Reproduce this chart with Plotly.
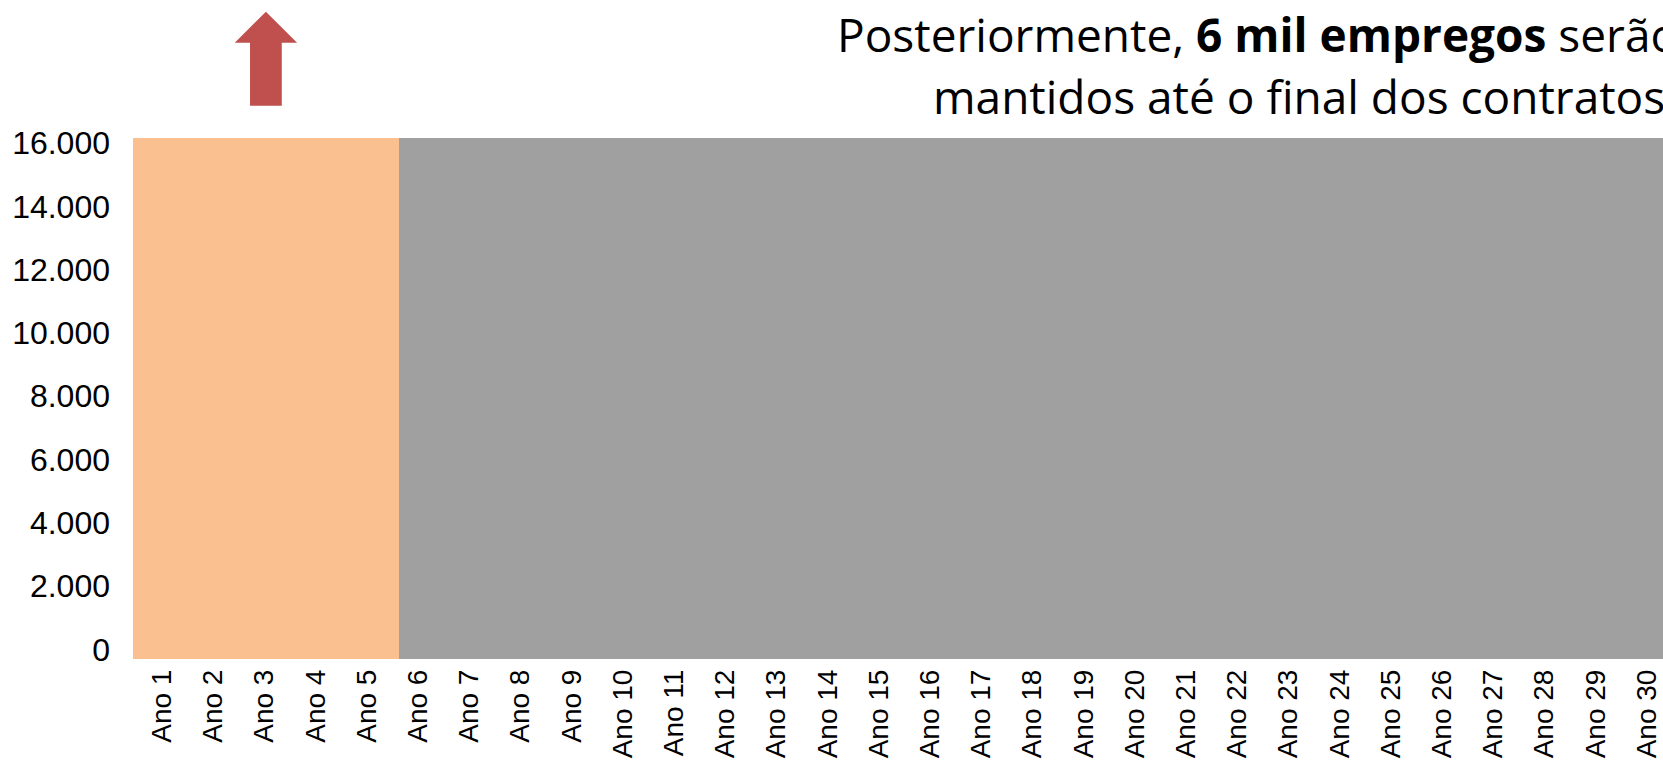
import plotly.graph_objects as go

# ---- data ----
anos = [f"Ano {i}" for i in range(1, 31)]
empregos_fase1 = [16000, 16000, 16000, 16000, 16000]          # Ano 1-5
empregos_fase2 = [16000] * 25                                   # Ano 6-30
y_ticks = [0, 2000, 4000, 6000, 8000, 10000, 12000, 14000, 16000]

COR_LARANJA = "#FAC090"
COR_CINZA = "#A0A0A0"
COR_SETA = "#C0504D"

W, H = 1663, 763
ML, MR, MT, MB = 133, 0, 138, 104
PH = H - MT - MB
PW = W - ML - MR

def py(px):
    """pixel y (from top) -> paper y"""
    return 1 + (MT - px) / PH

fig = go.Figure()
fig.add_trace(go.Bar(x=anos[5:], y=empregos_fase2, marker_color=COR_CINZA,
                     marker_line_width=0, width=1.26, hoverinfo="x+y"))
fig.add_trace(go.Bar(x=anos[:5], y=empregos_fase1, marker_color=COR_LARANJA,
                     marker_line_width=0, width=1.26, hoverinfo="x+y"))
# invisible carrier for the value-axis labels
fig.add_trace(go.Scatter(x=[0.5] * len(y_ticks), y=y_ticks, xaxis="x2", yaxis="y2",
                         mode="markers", marker=dict(opacity=0), hoverinfo="skip"))

# block arrow above Ano 3
cx = 2.03
hw, sw = 0.609, 0.31
tip, base, bot = py(11.7), py(42.7), py(105.7)
path = (f"M {cx},{tip} L {cx+hw},{base} L {cx+sw},{base} L {cx+sw},{bot} "
        f"L {cx-sw},{bot} L {cx-sw},{base} L {cx-hw},{base} Z")
fig.add_shape(type="path", path=path, xref="x", yref="paper",
              fillcolor=COR_SETA, line_width=0)

txt_font = dict(family="Open Sans, sans-serif", size=46, color="#000000")
fig.add_annotation(text="Posteriormente, <b>6 mil empregos</b> serão",
                   xref="paper", yref="paper", x=(835 - ML) / PW,
                   y=py(34), xanchor="left", yanchor="middle",
                   showarrow=False, font=txt_font)
fig.add_annotation(text="mantidos até o final dos contratos",
                   xref="paper", yref="paper", x=(931 - ML) / PW,
                   y=py(96), xanchor="left", yanchor="middle",
                   showarrow=False, font=txt_font)

fig.update_layout(
    width=W, height=H,
    margin=dict(l=ML, r=MR, t=MT, b=MB, pad=0, autoexpand=False),
    barmode="overlay",
    bargap=0,
    showlegend=False,
    paper_bgcolor="white",
    plot_bgcolor="rgba(0,0,0,0)",
    separators=",.",
    xaxis=dict(type="category", categoryorder="array", categoryarray=anos,
               range=[-0.566, 29.32], tickangle=-90, showgrid=False,
               zeroline=False, showline=False, ticks="", automargin=False,
               tickfont=dict(family="Liberation Sans, Arial", size=28, color="#000000"),
               ticklabelstandoff=4, domain=[0, 1]),
    yaxis=dict(range=[0, 16000], showticklabels=False, showgrid=False, automargin=False,
               zeroline=False, showline=False, ticks="", domain=[0, 1]),
    xaxis2=dict(domain=[0, 1], anchor="y2", range=[0, 1], visible=False, automargin=False),
    yaxis2=dict(anchor="x2", domain=[9.6 / PH, 1 - 5.0 / PH], range=[0, 16000],
                tickvals=y_ticks, tickformat=",d", showgrid=False, automargin=False,
                zeroline=False, showline=False, ticks="",
                tickfont=dict(family="Liberation Sans, Arial", size=32, color="#000000"),
                ticklabelstandoff=22),
)

fig.write_html(
    "out.html",
    config={"displayModeBar": False},
    post_script="document.body.style.margin='0';document.body.style.overflow='hidden';",
)
